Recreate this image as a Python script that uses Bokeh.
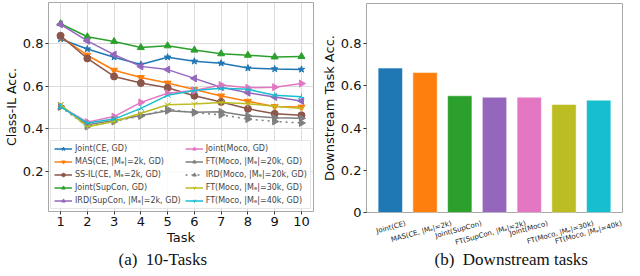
from bokeh.plotting import figure
from bokeh.layouts import row, column
from bokeh.models import Legend, LegendItem, FixedTicker, Title, Range1d
from bokeh.core.properties import value
from bokeh.embed import file_html
from bokeh.resources import INLINE
import math

# ---------------- data ----------------
tasks = [1, 2, 3, 4, 5, 6, 7, 8, 9, 10]
joint_ce = [0.820, 0.773, 0.735, 0.701, 0.735, 0.716, 0.707, 0.684, 0.680, 0.678]
mas_ce = [0.830, 0.744, 0.674, 0.640, 0.614, 0.584, 0.554, 0.529, 0.505, 0.502]
ssil_ce = [0.835, 0.729, 0.645, 0.614, 0.592, 0.555, 0.526, 0.494, 0.471, 0.464]
joint_supcon = [0.891, 0.830, 0.808, 0.780, 0.788, 0.768, 0.751, 0.744, 0.736, 0.738]
ird_supcon = [0.888, 0.811, 0.747, 0.692, 0.677, 0.636, 0.595, 0.569, 0.549, 0.531]
joint_moco = [0.505, 0.432, 0.458, 0.524, 0.567, 0.579, 0.605, 0.592, 0.595, 0.612]
ft_moco_20k = [0.506, 0.420, 0.440, 0.463, 0.485, 0.478, 0.480, 0.461, 0.452, 0.450]
ird_moco_20k = [0.503, 0.412, 0.435, 0.461, 0.492, 0.476, 0.466, 0.446, 0.435, 0.428]
ft_moco_30k = [0.514, 0.410, 0.435, 0.473, 0.513, 0.516, 0.524, 0.518, 0.506, 0.496]
ft_moco_40k = [0.503, 0.428, 0.446, 0.496, 0.557, 0.579, 0.590, 0.585, 0.557, 0.550]

series_names = [
    "Joint(CE, GD)", "MAS(CE, |Mₑ|=2k, GD)", "SS-IL(CE, Mₑ=2k, GD)",
    "Joint(SupCon, GD)", "IRD(SupCon, |Mₑ|=2k, GD)", "Joint(Moco, GD)",
    "FT(Moco, |Mₑ|=20k, GD)", "IRD(Moco, |Mₑ|=20k, GD)",
    "FT(Moco, |Mₑ|=30k, GD)", "FT(Moco, |Mₑ|=40k, GD)",
]
series_values = [joint_ce, mas_ce, ssil_ce, joint_supcon, ird_supcon, joint_moco,
                 ft_moco_20k, ird_moco_20k, ft_moco_30k, ft_moco_40k]
left_yticks = [0.2, 0.4, 0.6, 0.8]

bar_labels = ["Joint(CE)", "MAS(CE, |Mₑ|=2k)", "Joint(SupCon)", "FT(SupCon, |Mₑ|=2k)",
              "Joint(Moco)", "FT(Moco, |Mₑ|=30k)", "FT(Moco, |Mₑ|=40k)"]
bar_values = [0.684, 0.663, 0.553, 0.546, 0.546, 0.512, 0.532]
right_yticks = [0.0, 0.2, 0.4, 0.6, 0.8]

# ---------------- styles ----------------
colors = ["#1f77b4", "#ff7f0e", "#8c564b", "#2ca02c", "#9467bd", "#e377c2",
          "#7f7f7f", "#7f7f7f", "#bcbd22", "#17becf"]
markers = ["star", "inverted_triangle", "circle", "triangle", "triangle", "triangle",
           "triangle", "triangle", "y", "y"]
angles = [0, 0, 0, 0, math.pi / 2, -math.pi / 2, -math.pi / 2, -math.pi / 2, 0, math.pi]
dashes = ["solid"] * 7 + ["dotted"] + ["solid"] * 2
bar_colors = ["#1f77b4", "#ff7f0e", "#2ca02c", "#9467bd", "#e377c2", "#bcbd22", "#17becf"]

FONT = "DejaVu Sans"
SERIF = "Liberation Serif"
NB = "\u00a0"
TOTAL_H = 268


def style(p):
    p.outline_line_color = "#a8a8a8"
    p.outline_line_width = 1
    for ax in (p.xaxis, p.yaxis):
        ax.axis_line_color = None
        ax.major_tick_line_color = "#333333"
        ax.major_tick_out = 3
        ax.major_tick_in = 0
        ax.minor_tick_line_color = None
        ax.major_label_text_font = FONT
        ax.major_label_text_font_size = "13px"
        ax.major_label_text_color = "#111111"
        ax.axis_label_text_font = FONT
        ax.axis_label_text_font_size = "13px"
        ax.axis_label_text_font_style = "normal"
        ax.axis_label_text_color = "#111111"
        ax.major_label_standoff = 2
        ax.axis_label_standoff = 1


def caption(text, offset, standoff=0):
    return Title(text=text, align="left", offset=offset, text_font=SERIF,
                 text_font_size="17px", text_font_style="normal",
                 text_color="#111111", standoff=standoff)


# ---------------- left chart ----------------
p1 = figure(width=318, height=TOTAL_H, output_backend="svg", toolbar_location=None,
            x_range=Range1d(0.55, 10.45), y_range=Range1d(0.015, 0.99),
            min_border_left=0, min_border_right=5, min_border_top=2, min_border_bottom=0)
style(p1)
p1.xaxis.ticker = FixedTicker(ticks=tasks)
p1.yaxis.ticker = FixedTicker(ticks=left_yticks)
p1.xaxis.axis_label = "Task"
p1.yaxis.axis_label = "Class-IL Acc."
p1.yaxis.axis_label_text_font_size = "12.5px"
p1.xgrid.grid_line_color = "#dcdcdc"
p1.ygrid.grid_line_color = "#dcdcdc"

items = []
for name, vals, c, m, a, d in zip(series_names, series_values, colors, markers, angles, dashes):
    lr = p1.line(tasks, vals, line_color=c, line_width=1.5, line_dash=d)
    sr = p1.scatter(tasks, vals, marker=m, angle=a, size=7, fill_color=c, line_color=c)
    items.append(LegendItem(label=name, renderers=[lr, sr]))

leg = Legend(items=items, ncols=2, location=(2, 2),
             label_text_font=FONT, label_text_font_size="8px",
             label_height=9, glyph_height=9, glyph_width=18, spacing=4,
             padding=3, margin=0, label_standoff=3,
             border_line_color="#cccccc", background_fill_alpha=0.85)
p1.add_layout(leg, "center")
p1.add_layout(caption("(a)" + NB + NB + "10-Tasks", 70), "below")

# ---------------- right chart ----------------
bar_x = list(range(len(bar_labels)))
ang = 0.27
R_W = 306
R_LEFT = 46
R_RIGHT = 2
BAR_H = 219
x0, x1 = -0.685, 6.685

p2 = figure(width=R_W, height=BAR_H, output_backend="svg", toolbar_location=None,
            x_range=Range1d(x0, x1), y_range=Range1d(0.0, 0.99),
            min_border_left=R_LEFT, min_border_right=R_RIGHT,
            min_border_top=3, min_border_bottom=7)
style(p2)
p2.xaxis.visible = False
p2.vbar(x=bar_x, top=bar_values, width=0.7, fill_color=bar_colors,
        line_color="white", line_width=0.5)
p2.yaxis.ticker = FixedTicker(ticks=right_yticks)
p2.yaxis.axis_label = "Downstream Task Acc."
p2.xgrid.grid_line_color = None
p2.ygrid.grid_line_color = None

# label strip below the bars, sharing the bar panel's x scale
lab = figure(width=R_W, height=TOTAL_H - BAR_H, output_backend="svg", toolbar_location=None,
             x_range=p2.x_range, y_range=Range1d(-1.0, 0.0),
             x_axis_type=None, y_axis_type=None,
             min_border_left=R_LEFT, min_border_right=R_RIGHT, min_border_top=0,
             min_border_bottom=0)
lab.outline_line_color = None
lab.xgrid.grid_line_color = None
lab.ygrid.grid_line_color = None
scale = (R_W - R_LEFT - R_RIGHT) / (x1 - x0)
half_w = [len(s) * 3.3 / 2.0 for s in bar_labels]
x_off = [min(h * math.cos(ang), (x1 - xi) * scale - 2) for h, xi in zip(half_w, bar_x)]
lab.text(x=bar_x, y=[0.0] * len(bar_x), text=bar_labels, angle=ang,
         x_offset=x_off, y_offset=0,
         text_align="right", text_baseline="top", text_font=value(FONT),
         text_font_size="7px", text_color="#222222")
lab.add_layout(caption("(b)" + NB + NB + "Downstream tasks", 68), "below")

layout = row(p1, column(p2, lab))
open("out.html", "w").write(file_html(layout, INLINE))
